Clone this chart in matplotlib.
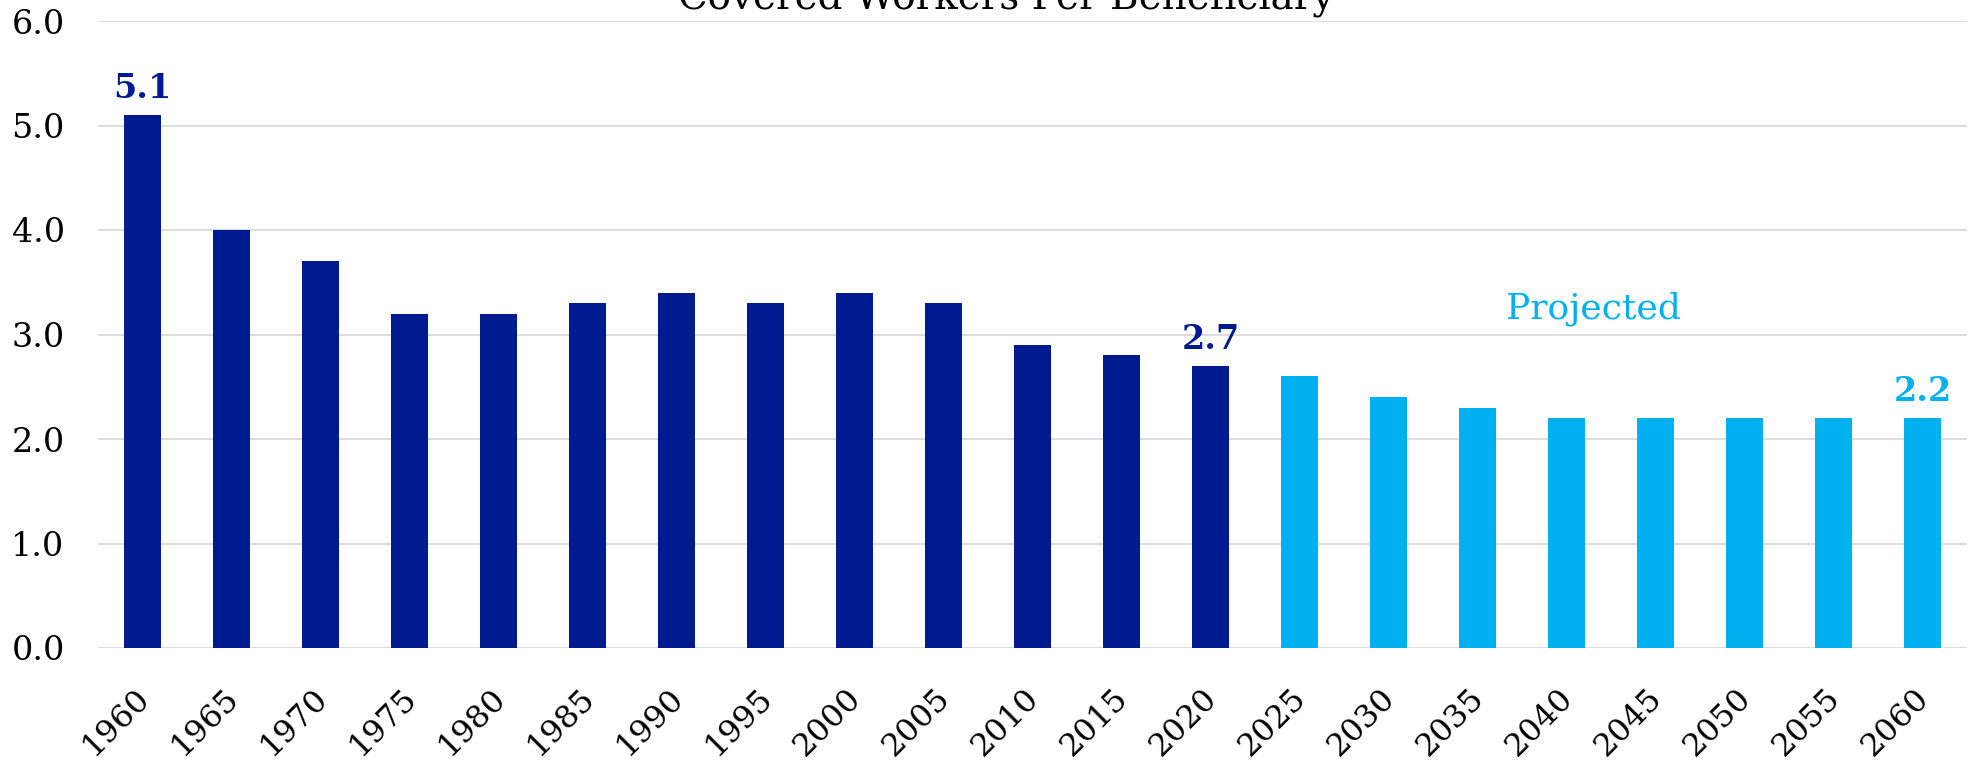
import matplotlib
matplotlib.use("Agg")
import matplotlib.pyplot as plt
import matplotlib.transforms as mtransforms

years = ["1960", "1965", "1970", "1975", "1980", "1985", "1990", "1995", "2000", "2005",
         "2010", "2015", "2020", "2025", "2030", "2035", "2040", "2045", "2050", "2055", "2060"]
workers_per_beneficiary = [5.1, 4.0, 3.7, 3.2, 3.2, 3.3, 3.4, 3.3, 3.4, 3.3,
                           2.9, 2.8, 2.7, 2.6, 2.4, 2.3, 2.2, 2.2, 2.2, 2.2, 2.2]
first_projected_year = "2025"
labeled_years = ["1960", "2020", "2060"]
yticks = [0, 1, 2, 3, 4, 5, 6]

HIST = "#001A8F"
PROJ = "#00B0F0"
GRID = "#D9D9D9"
FONT = "DejaVu Serif"

plt.rcParams["font.family"] = FONT

fig = plt.figure(figsize=(19.73, 7.61), dpi=100)
ax = fig.add_axes([98 / 1973, 1 - 648 / 761, (1967 - 98) / 1973, (648 - 21) / 761])

split = years.index(first_projected_year)
x = list(range(len(years)))
colors = [HIST if i < split else PROJ for i in x]
ax.bar(x, workers_per_beneficiary, width=0.405, color=colors, zorder=3)

ax.set_xlim(-0.5, len(years) - 0.5)
ax.set_ylim(0, 6)
ax.set_yticks(yticks)
ax.set_yticklabels([f"{v:.1f}" for v in yticks], fontsize=24)
ax.yaxis.grid(True, color=GRID, linewidth=1.3, zorder=0)
ax.tick_params(axis="y", length=0, pad=24)
ax.tick_params(axis="x", length=0, pad=30)
for s in ax.spines.values():
    s.set_visible(False)

ax.set_xticks(x)
ax.set_xticklabels(years, rotation=45, ha="right", va="center",
                   rotation_mode="anchor", fontsize=23)
shift = mtransforms.ScaledTranslation(2 / 100, -4 / 100, fig.dpi_scale_trans)
for lbl in ax.get_xticklabels():
    lbl.set_transform(lbl.get_transform() + shift)

for yr in labeled_years:
    i = years.index(yr)
    v = workers_per_beneficiary[i]
    ax.annotate(f"{v:.1f}", (i, v), xytext=(0, 7), textcoords="offset points",
                ha="center", va="bottom", fontsize=24, fontweight="bold",
                color=colors[i])

ax.text(16.3, 3.25, "Projected", color=PROJ, fontsize=26, ha="center", va="center")

fig.text(0.51, 1 - 10 / 761, "Covered Workers Per Beneficiary", ha="center",
         va="baseline", fontsize=28)

fig.savefig("out.png", dpi=100)
